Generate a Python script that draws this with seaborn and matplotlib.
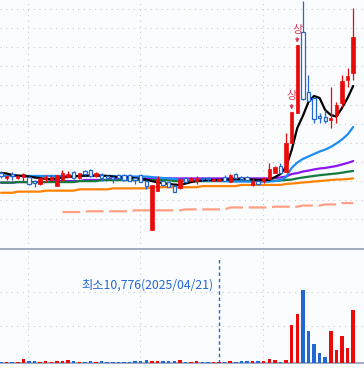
import matplotlib
matplotlib.use("Agg")
import matplotlib.pyplot as plt
import matplotlib.transforms as mtransforms
import numpy as np
import pandas as pd
import seaborn as sns

# daily candles (price in won)
opens = [3205, 3075, 3180, 3075, 3100, 3110, 2995, 2920, 3050, 3025,
         2865, 3025, 3100, 3240, 3070, 3265, 3285, 3130, 3155, 3130,
         3100, 3155, 3155, 3155, 3075, 3155, 3005, 1715, 2745, 2995,
         2980, 2865, 2805, 3075, 3005, 3005, 3075, 3075, 3005, 2995,
         3110, 2980, 3180, 3110, 3110, 2895, 3005, 3005, 3050, 3215,
         3400, 3240, 3985, 4785, 6905, 5335, 5160, 4700, 4665, 4595,
         4725, 5030, 5640, 5815]
highs = [3260, 3155, 3235, 3155, 3205, 3130, 3025, 3090, 3155, 3155,
         3160, 3285, 3270, 3260, 3220, 3295, 3310, 3235, 3205, 3155,
         3130, 3180, 3180, 3180, 3110, 3180, 3025, 2895, 3130, 3025,
         3000, 2880, 3060, 3090, 3090, 3130, 3110, 3110, 3075, 3075,
         3155, 3180, 3215, 3130, 3130, 3070, 3025, 3110, 3460, 3390,
         3460, 4245, 4810, 6560, 7710, 5770, 5180, 4775, 4855, 5465,
         5075, 5770, 5950, 7520]
lows = [3075, 3025, 3025, 3050, 2995, 2895, 2840, 2905, 2970, 2970,
        2860, 3010, 3090, 3050, 3050, 3160, 3110, 3100, 2995, 3025,
        2945, 3050, 3010, 2985, 2920, 2970, 2780, 1715, 2740, 2880,
        2840, 2700, 2790, 2970, 2990, 2920, 3005, 3005, 2995, 2985,
        2995, 2970, 3060, 3030, 3010, 2880, 2895, 2955, 3040, 3200,
        3200, 3230, 3985, 4785, 5120, 5090, 4510, 4510, 4525, 4375,
        4510, 4935, 5465, 5640]
closes = [3130, 3130, 3130, 3130, 3180, 2920, 2945, 3075, 3100, 3100,
          3150, 3205, 3180, 3070, 3200, 3180, 3130, 3200, 3075, 3075,
          3050, 3070, 3025, 2995, 3025, 2980, 2865, 2895, 3040, 2895,
          2850, 2715, 3040, 2980, 3075, 3075, 3040, 3050, 3060, 3060,
          3005, 3155, 3070, 3040, 3025, 3005, 2930, 3070, 3305, 3370,
          3215, 4000, 4810, 6560, 5145, 5100, 4615, 4660, 4575, 4640,
          4985, 5615, 5745, 6775]
volumes = [14000, 15000, 13000, 15000, 54000, 29000, 30000, 15000, 29000, 14000,
           30000, 28000, 39000, 29000, 15000, 14000, 29000, 15000, 28000, 14000,
           13000, 14000, 13000, 15000, 29000, 30000, 39000, 30000, 29000, 28000,
           29000, 30000, 44000, 14000, 15000, 29000, 13000, 14000, 15000, 10776,
           14000, 29000, 14000, 30000, 29000, 30000, 28000, 24000, 58000, 44000,
           19000, 44000, 555000, 720000, 1065000, 467000, 277000, 146000, 88000, 467000,
           190000, 394000, 219000, 774000]

# moving averages
ma5 = [3205, 3195, 3155, 3140, 3130, 3115, 3090, 3075, 3050, 3050,
       3065, 3090, 3100, 3115, 3130, 3140, 3140, 3140, 3140, 3130,
       3115, 3100, 3100, 3090, 3075, 3050, 3035, 2995, 2960, 2945,
       2920, 2905, 2895, 2930, 2970, 2995, 3010, 3025, 3025, 3025,
       3035, 3035, 3050, 3050, 3050, 3035, 3025, 3025, 3025, 3100,
       3180, 3365, 3810, 4385, 4700, 5065, 5225, 5170, 4855, 4725,
       4685, 4910, 5170, 5485]
ma20 = [3130, 3130, 3130, 3130, 3130, 3130, 3130, 3130, 3130, 3130,
        3130, 3130, 3130, 3130, 3130, 3130, 3130, 3130, 3130, 3130,
        3130, 3115, 3115, 3115, 3115, 3115, 3115, 3100, 3090, 3075,
        3065, 3050, 3035, 3010, 3010, 3010, 3010, 3010, 3010, 3010,
        3010, 2985, 2985, 2985, 2985, 2985, 2985, 2985, 2985, 2995,
        3025, 3100, 3340, 3480, 3575, 3640, 3705, 3770, 3820, 3890,
        3980, 4085, 4215, 4410]
ma60 = [2955, 2955, 2955, 2970, 2970, 2970, 2970, 2970, 2970, 2995,
        2995, 2995, 2995, 2995, 2995, 3025, 3025, 3025, 3025, 3025,
        3065, 3065, 3065, 3065, 3065, 3065, 3065, 3065, 3065, 3065,
        3065, 3065, 3065, 3065, 3065, 3065, 3065, 3065, 3065, 3065,
        3065, 3065, 3065, 3065, 3065, 3065, 3065, 3065, 3065, 3075,
        3090, 3115, 3180, 3205, 3245, 3270, 3300, 3325, 3340, 3365,
        3390, 3430, 3470, 3520]
ma120 = [2955, 2955, 2955, 2970, 2970, 2970, 2970, 2970, 2970, 2970,
         2970, 2970, 2970, 2970, 2995, 2995, 2995, 2995, 3020, 3020,
         3020, 3020, 3020, 3020, 3020, 3020, 3020, 3020, 3020, 3020,
         3020, 2995, 2995, 2995, 2995, 2995, 2995, 2995, 2995, 2995,
         2995, 2995, 2995, 2995, 2995, 2995, 2995, 2995, 2995, 3005,
         3010, 3025, 3035, 3065, 3090, 3110, 3130, 3150, 3165, 3180,
         3195, 3215, 3240, 3260]
ma240 = [2690, 2690, 2690, 2720, 2720, 2720, 2720, 2720, 2745, 2745,
         2745, 2745, 2745, 2745, 2780, 2780, 2780, 2780, 2780, 2780,
         2805, 2805, 2805, 2805, 2805, 2805, 2805, 2835, 2835, 2835,
         2835, 2835, 2835, 2835, 2835, 2835, 2865, 2865, 2865, 2865,
         2865, 2865, 2865, 2895, 2895, 2895, 2895, 2895, 2895, 2895,
         2895, 2920, 2930, 2945, 2960, 2970, 2985, 2995, 3010, 3025,
         3035, 3040, 3050, 3065]
nan = float("nan")
ma_long = [nan, nan, nan, nan, nan, nan, nan, nan, nan, nan,
           nan, 2185, 2185, 2185, 2185, 2205, 2205, 2205, 2205, 2205,
           2205, 2205, 2205, 2205, 2230, 2230, 2230, 2230, 2230, 2230,
           2230, 2230, 2230, 2255, 2255, 2255, 2255, 2255, 2255, 2255,
           2255, 2305, 2305, 2305, 2305, 2305, 2305, 2305, 2305, 2325,
           2325, 2325, 2325, 2325, 2355, 2355, 2355, 2355, 2385, 2385,
           2385, 2420, 2420, 2420]

month_starts = [5, 25, 47]
price_grid = [2000, 2500, 3000, 3500, 4000, 4500, 5000, 5500, 6000, 6500, 7000, 7500]
vol_grid = [540000, 1040000]
limit_up_days = [52, 53]
min_vol_day = 39
min_vol_label = "최소10,776(2025/04/21)"

UP = "#ea0a0a"
DOWN = "#2368d2"
BG = "#fafcfe"
EDGE = "#8e9db6"
GRID = "#c5cbd6"
MARK = "#dc3c5a"

sns.set_theme(style="white")
plt.rcParams["font.family"] = ["Noto Sans CJK KR", "DejaVu Sans"]

df = pd.DataFrame({"open": opens, "high": highs, "low": lows, "close": closes,
                   "volume": volumes, "ma5": ma5, "ma20": ma20, "ma60": ma60,
                   "ma120": ma120, "ma240": ma240, "ma_long": ma_long})
df["idx"] = np.arange(len(df))
df["up"] = df["close"] >= df["open"]

fig = plt.figure(figsize=(3.64, 3.68), dpi=100, facecolor=BG)
ax = fig.add_axes([0, 0.3239, 1, 0.6761])
axv = fig.add_axes([0, 0.0136, 1, 0.309])

for a in (ax, axv):
    a.set_facecolor(BG)
    a.set_xlim(-0.18, 64.94)
    a.set_xticks([m - 0.15 for m in month_starts])
    a.grid(True, color=GRID, lw=0.8, linestyle=(0, (1, 4)))
    a.tick_params(labelbottom=False, labelleft=False, length=0)
    for s in a.spines.values():
        s.set_visible(False)

# price panel
ax.set_ylim(1223, 7736)
ax.set_yticks(price_grid)

ma_styles = [("ma_long", "#ffa084", 1), ("ma240", "#ff8200", 2), ("ma60", "#8c14f5", 3),
             ("ma120", "#127a3c", 4), ("ma20", "#1e8cf5", 5), ("ma5", "#000000", 6)]
for col, color, z in ma_styles:
    ls = (0, (8, 2.5)) if col == "ma_long" else "-"
    sns.lineplot(data=df, x="idx", y=col, ax=ax, color=color, lw=1.6,
                 linestyle=ls, zorder=z)

up = df[df["up"]]
dn = df[~df["up"]]
ax.vlines(up["idx"], up["low"], up["high"], color=UP, lw=0.9, zorder=7)
ax.vlines(dn["idx"], dn["low"], dn["high"], color=DOWN, lw=0.9, zorder=7)
ax.bar(up["idx"], (up["close"] - up["open"]).clip(lower=6), bottom=up["open"],
       width=0.6, color=UP, edgecolor=UP, lw=0.5, zorder=8)
ax.bar(dn["idx"], (dn["open"] - dn["close"]).clip(lower=6), bottom=dn["close"],
       width=0.6, color=BG, edgecolor=DOWN, lw=0.9, zorder=8)

for d in limit_up_days:
    ax.annotate("상", xy=(d, highs[d]), xytext=(0, 7.5), textcoords="offset points",
                ha="center", va="bottom", fontsize=8, color=MARK, zorder=9,
                arrowprops=dict(arrowstyle="-|>", color=MARK, lw=0.9,
                                mutation_scale=5, shrinkA=0, shrinkB=1.5))
ax.set_xlabel("")
ax.set_ylabel("")

# volume panel
axv.set_ylim(0, 1660000)
axv.set_yticks(vol_grid)
vol_colors = [UP if u else DOWN for u in df["up"]]
axv.bar(df["idx"], df["volume"], width=0.62, color=vol_colors, lw=0, zorder=3)
axv.spines["top"].set_visible(True)
axv.spines["bottom"].set_visible(True)
axv.spines["top"].set_color(EDGE)
axv.spines["bottom"].set_color(EDGE)
axv.spines["top"].set_linewidth(1.2)
axv.spines["bottom"].set_linewidth(1.2)
axv.tick_params(axis="x", length=3, width=1, color=EDGE, direction="out")

axv.axvline(min_vol_day, ymin=0, ymax=0.915, color=DOWN, lw=1,
            linestyle=(0, (2.5, 2)), zorder=4)
trans = mtransforms.blended_transform_factory(axv.transData, axv.transAxes)
axv.text(min_vol_day - 0.95, 0.686, min_vol_label, transform=trans,
         ha="right", va="center", fontsize=8.8, color=DOWN)

fig.savefig("out.png", dpi=100, facecolor=BG)
